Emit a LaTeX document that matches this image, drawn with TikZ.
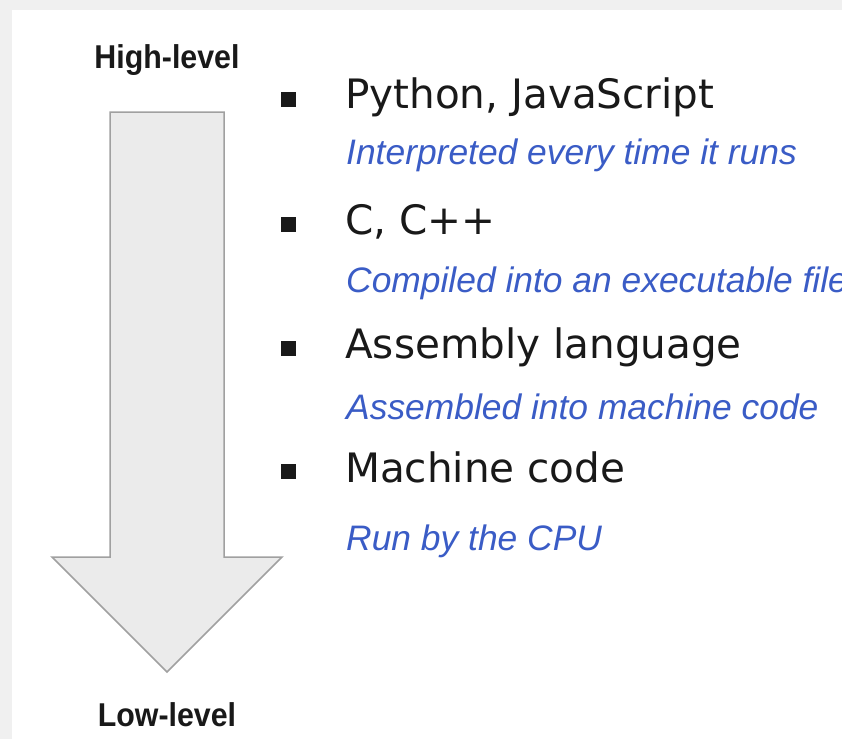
\documentclass[tikz,border=0pt]{standalone}
\usepackage{fontspec}
\setmainfont{Liberation Sans}
\newfontfamily\itemfont{DejaVu Sans}
\newfontfamily\levelfont[FakeStretch=0.92]{Liberation Sans}
\usetikzlibrary{positioning}
\definecolor{notecol}{HTML}{3A5CC6}
\definecolor{arrowfill}{HTML}{EBEBEB}
\definecolor{arrowline}{HTML}{A0A0A0}
\definecolor{pageback}{HTML}{F0F0F0}
\tikzset{level/.style = {font=\levelfont\bfseries\fontsize{33}{38}\selectfont,
                         text=black!90, anchor=base, inner sep=0pt},
         lang/.style  = {font=\itemfont\fontsize{40.5}{49}\selectfont,
                         text=black!90, anchor=base west, inner sep=0pt},
         note/.style  = {font=\itshape\fontsize{35.4}{42}\selectfont,
                         text=notecol, anchor=base west, inner sep=0pt},
         bullet/.style = {fill=black!90, minimum size=15pt, inner sep=0pt}}

\begin{document}
\begin{tikzpicture}[x=1pt, y=-1pt]
    \fill [pageback] (0, 0) rectangle (842, 739);
    \fill [white] (12, 10) rectangle (842, 739);
    \useasboundingbox (0, 0) rectangle (842, 739);
    % big arrow, high to low
    \draw [arrowline, fill=arrowfill, line width=1.5pt, line join=miter]
      (110, 112) -- (224, 112) -- (224, 557) -- (282, 557) -- (167, 672)
      -- (52, 557) -- (110, 557) -- cycle;
    \node [level] (high) at (167, 68) {High-level};
    \node [level] (low) at (167, 726) {Low-level};
    % the list
    \node [bullet] (b1) at (288, 99) {};
    \node [lang] (python) at (345, 108) {Python, JavaScript};
    \node [note] (interp) at (346, 164) {Interpreted every time it runs};
    \node [bullet] (b2) at (288, 224) {};
    \node [lang] (cpp) at (345, 234) {C, C++};
    \node [note] (compiled) at (346, 292) {Compiled into an executable file};
    \node [bullet] (b3) at (288, 348) {};
    \node [lang] (asm) at (345, 358) {Assembly language};
    \node [note] (assembled) at (346, 419) {Assembled into machine code};
    \node [bullet] (b4) at (288, 471) {};
    \node [lang] (machine) at (345, 482) {Machine code};
    \node [note] (cpu) at (346, 550) {Run by the CPU};
  \end{tikzpicture}
\end{document}
